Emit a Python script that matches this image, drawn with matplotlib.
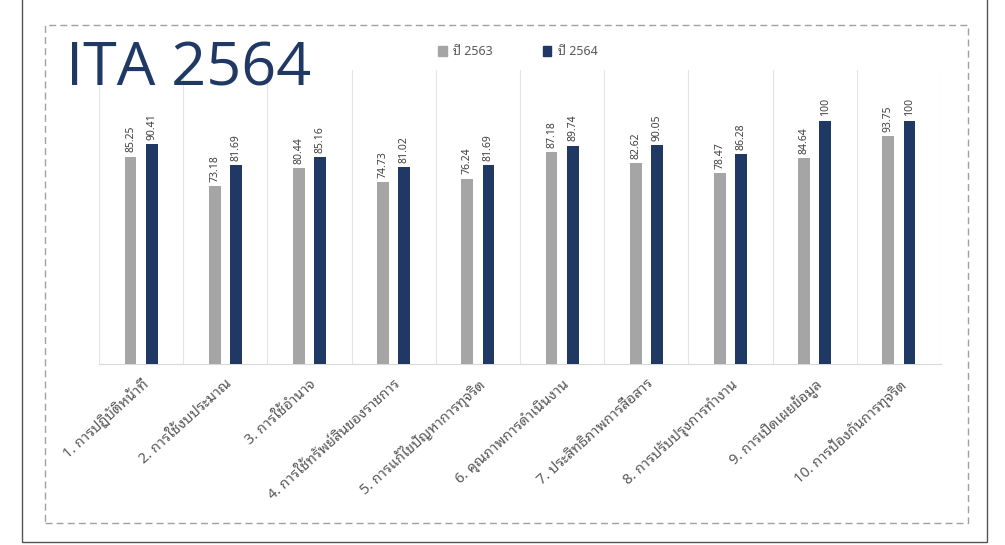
import matplotlib
matplotlib.use('Agg')
import matplotlib.pyplot as plt
from matplotlib.patches import Rectangle, Patch
import numpy as np

# ข้อมูลคะแนน ITA
categories = [
    '1. การปฏิบัติหน้าที่',
    '2. การใช้งบประมาณ',
    '3. การใช้อำนาจ',
    '4. การใช้ทรัพย์สินของราชการ',
    '5. การแก้ไขปัญหาการทุจริต',
    '6. คุณภาพการดำเนินงาน',
    '7. ประสิทธิภาพการสื่อสาร',
    '8. การปรับปรุงการทำงาน',
    '9. การเปิดเผยข้อมูล',
    '10. การป้องกันการทุจริต',
]
score_2563 = [85.25, 73.18, 80.44, 74.73, 76.24, 87.18, 82.62, 78.47, 84.64, 93.75]
score_2564 = [90.41, 81.69, 85.16, 81.02, 81.69, 89.74, 90.05, 86.28, 100, 100]
series_names = ['ปี 2563', 'ปี 2564']

GRAY = '#A5A5A5'
NAVY = '#1F3864'
THAI = ['Noto Sans Thai Looped', 'DejaVu Sans']

fig = plt.figure(figsize=(10.05, 5.45), dpi=100)
ax = fig.add_axes([0.0985, 0.332, 0.8378, 0.540])

x = np.arange(len(categories))
w = 0.14
b1 = ax.bar(x - 0.125, score_2563, w, color=GRAY, zorder=3)
b2 = ax.bar(x + 0.125, score_2564, w, color=NAVY, zorder=3)

# ป้ายค่าบนแท่ง
for bars, vals in ((b1, score_2563), (b2, score_2564)):
    for r, v in zip(bars, vals):
        ax.text(r.get_x() + r.get_width() / 2, v + 1.8, '%g' % v,
                rotation=90, ha='center', va='bottom', fontsize=7.5,
                color='#404040', family=THAI)

ax.set_xlim(-0.5, len(categories) - 0.5)
ax.set_ylim(0, 121)
for xb in np.arange(-0.5, len(categories), 1):
    ax.axvline(xb, color='#E4E4E4', lw=0.8, zorder=1)
ax.set_yticks([])
ax.set_xticks(x)
ax.set_xticklabels(categories, rotation=42, ha='right', va='top',
                   rotation_mode='anchor', fontsize=10.5, color='#595959',
                   family=THAI)
ax.tick_params(axis='x', length=0, pad=9)
for s in ('top', 'left', 'right'):
    ax.spines[s].set_visible(False)
ax.spines['bottom'].set_color('#D9D9D9')

# หัวข้อ
fig.text(0.066, 0.872, 'ITA 2564', fontsize=44, color=NAVY,
         family=['Open Sans'], ha='left', va='center')

handles = [Patch(color=GRAY), Patch(color=NAVY)]
leg = fig.legend(handles, series_names, loc='center', ncol=2,
                 bbox_to_anchor=(0.515, 0.905), frameon=False,
                 prop={'family': THAI, 'size': 9}, handlelength=0.7,
                 handleheight=0.9, handletextpad=0.5, columnspacing=4)
for t in leg.get_texts():
    t.set_color('#595959')

# กรอบ
fig.patches.append(Rectangle((0.045, 0.04), 0.918, 0.915, transform=fig.transFigure,
                             fill=False, ec='#A0A0A0', lw=1.0, ls=(0, (5, 3))))
fig.patches.append(Rectangle((0.022, 0.006), 0.960, 1.2, transform=fig.transFigure,
                             fill=False, ec='#555555', lw=1.0))

fig.savefig('out.png')
